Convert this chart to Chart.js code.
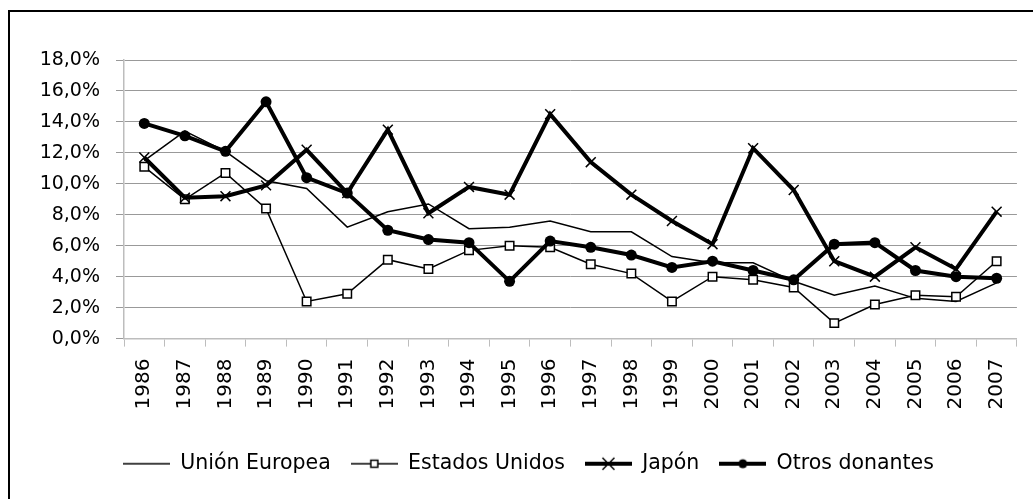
<!DOCTYPE html>
<html>
<head>
<meta charset="utf-8">
<script src="https://cdn.jsdelivr.net/npm/chart.js@4/dist/chart.umd.min.js"></script>
<style>
  html, body { margin: 0; padding: 0; background: #fff; }
  #wrap { position: relative; width: 1033px; height: 499px; }
</style>
</head>
<body>
<div id="wrap"><canvas id="c" width="1033" height="499"></canvas></div>
<script>
const years = ["1986","1987","1988","1989","1990","1991","1992","1993","1994","1995","1996","1997","1998","1999","2000","2001","2002","2003","2004","2005","2006","2007"];
const seriesNames = ["Unión Europea", "Estados Unidos", "Japón", "Otros donantes"];
const unionEuropea = [11.5,13.4,12.1,10.2,9.7,7.2,8.2,8.7,7.1,7.2,7.6,6.9,6.9,5.3,4.9,4.9,3.7,2.8,3.4,2.6,2.4,3.6];
const estadosUnidos = [11.1,9.0,10.7,8.4,2.4,2.9,5.1,4.5,5.7,6.0,5.9,4.8,4.2,2.4,4.0,3.8,3.3,1.0,2.2,2.8,2.7,5.0];
const japon = [11.7,9.1,9.2,9.9,12.2,9.4,13.5,8.1,9.8,9.3,14.5,11.4,9.3,7.6,6.1,12.3,9.6,5.0,4.0,5.9,4.5,8.2];
const otrosDonantes = [13.9,13.1,12.1,15.3,10.4,9.4,7.0,6.4,6.2,3.7,6.3,5.9,5.4,4.6,5.0,4.4,3.8,6.1,6.2,4.4,4.0,3.9];
const yMin = 0, yMax = 18, yStep = 2;

function legendIcon(kind) {
  const c = document.createElement('canvas');
  c.width = 47; c.height = 16;
  const g = c.getContext('2d');
  g.strokeStyle = '#000'; g.fillStyle = '#000';
  const cy = 8;
  g.lineWidth = (kind === 'japon' || kind === 'otros') ? 4 : 1.5;
  g.beginPath(); g.moveTo(0, cy); g.lineTo(47, cy); g.stroke();
  const cx = 23.5;
  if (kind === 'eeuu') {
    g.fillStyle = '#fff'; g.lineWidth = 1.5;
    g.fillRect(cx - 3.5, cy - 3.5, 7, 7);
    g.strokeRect(cx - 3.5, cy - 3.5, 7, 7);
  } else if (kind === 'japon') {
    g.lineWidth = 1.5;
    g.beginPath();
    g.moveTo(cx - 6, cy - 6); g.lineTo(cx + 6, cy + 6);
    g.moveTo(cx + 6, cy - 6); g.lineTo(cx - 6, cy + 6);
    g.stroke();
  } else if (kind === 'otros') {
    g.beginPath(); g.arc(cx, cy, 4.5, 0, Math.PI * 2); g.fill();
  }
  return c;
}
const icons = [legendIcon('ue'), legendIcon('eeuu'), legendIcon('japon'), legendIcon('otros')];

const frame = {
  id: 'frame',
  afterDraw(chart) {
    const ctx = chart.ctx;
    ctx.save();
    ctx.strokeStyle = '#000';
    ctx.lineWidth = 2;
    ctx.strokeRect(9, 11, 1040, 510);
    ctx.restore();
  }
};

new Chart(document.getElementById('c'), {
  type: 'line',
  data: {
    labels: years,
    datasets: [
      { label: seriesNames[3], data: otrosDonantes, borderColor: '#000', backgroundColor: '#000', borderWidth: 4,
        pointStyle: 'circle', pointRadius: 5.5, pointBorderWidth: 0, pointBackgroundColor: '#000', tension: 0, order: 1 },
      { label: seriesNames[2], data: japon, borderColor: '#000', backgroundColor: '#000', borderWidth: 4,
        pointStyle: 'crossRot', pointRadius: 7, pointBorderWidth: 1.5, pointBorderColor: '#000', tension: 0, order: 2 },
      { label: seriesNames[1], data: estadosUnidos, borderColor: '#000', backgroundColor: '#fff', borderWidth: 1.5,
        pointStyle: 'rect', pointRadius: 6, pointBorderWidth: 1.5, pointBackgroundColor: '#fff', pointBorderColor: '#000', tension: 0, order: 3 },
      { label: seriesNames[0], data: unionEuropea, borderColor: '#000', backgroundColor: '#000', borderWidth: 1.5,
        pointRadius: 0, tension: 0, order: 4 }
    ]
  },
  options: {
    responsive: false,
    animation: false,
    devicePixelRatio: 1,
    layout: { padding: { left: 40, right: 16, top: 60, bottom: 15 } },
    font: { family: 'DejaVu Sans', size: 19 },
    plugins: {
      tooltip: { enabled: false },
      legend: {
        position: 'bottom',
        reverse: true,
        labels: {
          usePointStyle: true,
          pointStyleWidth: 47,
          padding: 20,
          color: '#000',
          font: { family: 'DejaVu Sans', size: 20.5 },
          generateLabels(chart) {
            return chart.data.datasets.map((ds, i) => ({
              text: ds.label,
              pointStyle: icons[seriesNames.indexOf(ds.label)],
              datasetIndex: i,
              lineWidth: 0,
              fontColor: '#000',
              hidden: false
            }));
          }
        }
      }
    },
    scales: {
      x: {
        type: 'category',
        offset: true,
        grid: { offset: true, drawOnChartArea: false, drawTicks: true, tickLength: 8, color: '#bdbdbd', lineWidth: 1 },
        border: { display: true, color: '#bdbdbd', width: 1.5 },
        ticks: { minRotation: 90, maxRotation: 90, padding: 12, color: '#000', autoSkip: false,
                 font: { family: 'DejaVu Sans', size: 20 } },
        afterFit(scale) { scale.height += 12; }
      },
      y: {
        min: yMin, max: yMax,
        grid: { color: '#999', lineWidth: 1, tickLength: 8, drawTicks: true },
        border: { display: true, color: '#bdbdbd', width: 1.5 },
        ticks: {
          stepSize: yStep, padding: 16, color: '#000',
          font: { family: 'DejaVu Sans', size: 19 },
          callback: v => v.toFixed(1).replace('.', ',') + '%'
        },
        afterFit(scale) { scale.width = 84; }
      }
    }
  },
  plugins: [frame]
});
</script>
</body>
</html>
